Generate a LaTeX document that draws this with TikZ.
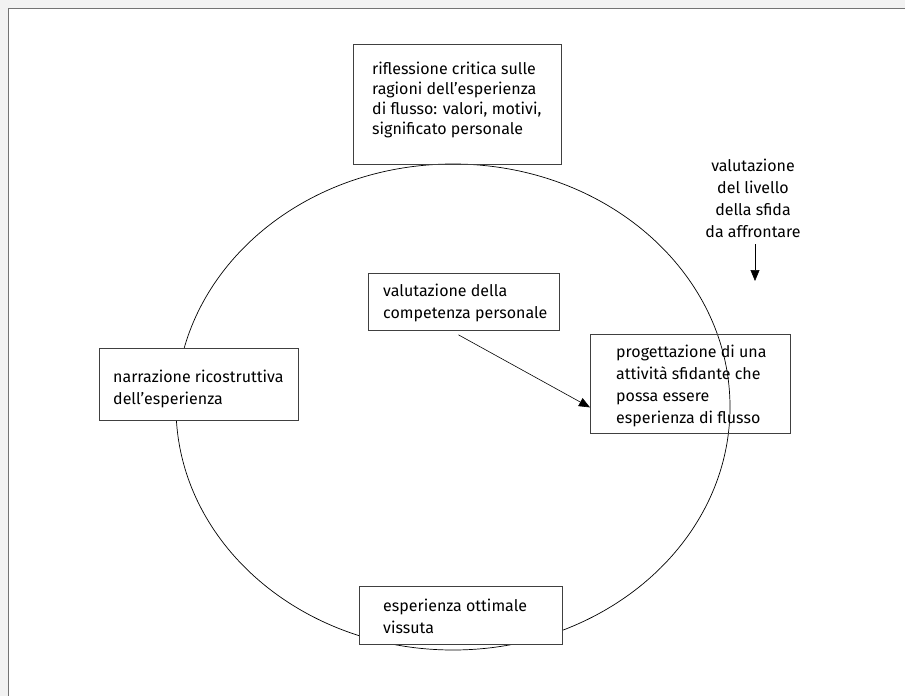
\documentclass[tikz,border=0pt]{standalone}
\usepackage{fontspec}
\setmainfont{Fira Sans}
\usetikzlibrary{arrows.meta}
\begin{document}
\begin{tikzpicture}[x=1pt,y=-1pt,
  box/.style={draw=black!75,line width=0.8pt,rectangle,inner sep=0pt,anchor=north west},
  whitebox/.style={box,fill=white},
  txt/.style={inner sep=0pt,anchor=west,align=left,font=\fontsize{16}{22}\selectfont},
  lbl/.style={inner sep=0pt,align=center,font=\fontsize{16}{22}\selectfont},
  arr/.style={line width=0.6pt,-{Triangle[length=11pt,width=9pt]}},
  cyc/.style={line width=0.7pt}]
\useasboundingbox (0,0) rectangle (905,696);
% page frame
\fill[black!5] (0,0) rectangle (905,696);
\fill[white] (8.5,8.5) rectangle (905,696);
\draw[black!55,line width=1.2pt] (8.5,696) -- (8.5,8.5) -- (905,8.5);

% the cycle
\draw[cyc] (453,407) ellipse [x radius=277pt, y radius=243pt];

% boxes
\node[box,minimum width=208pt,minimum height=120pt] (top) at (353,44) {};
\node[txt,font=\fontsize{16}{20}\selectfont] (toptxt) at ([xshift=19pt,yshift=4pt]top.west)
  {riflessione critica sulle\\ragioni dell’esperienza\\di flusso: valori, motivi,\\significato personale};

\node[box,minimum width=191pt,minimum height=57pt] (mid) at (368,273) {};
\node[txt] (midtxt) at ([xshift=15pt,yshift=-1.5pt]mid.west)
  {valutazione della\\competenza personale};

\node[box,minimum width=200pt,minimum height=99pt] (right) at (590,334) {};
\node[txt] (righttxt) at ([xshift=26pt,yshift=-2.5pt]right.west)
  {progettazione di una\\attività sfidante che\\possa essere\\esperienza di flusso};

\node[whitebox,minimum width=199pt,minimum height=72pt] (left) at (99,348) {};
\node[txt] (lefttxt) at ([xshift=14pt,yshift=-4.5pt]left.west)
  {narrazione ricostruttiva\\dell’esperienza};

\node[whitebox,minimum width=203pt,minimum height=58pt] (bottom) at (359,586) {};
\node[txt] (bottomtxt) at ([xshift=24pt,yshift=-1pt]bottom.west)
  {esperienza ottimale\\vissuta};

% challenge label and its arrow
\node[lbl] (chal) at (753,198.5)
  {valutazione\\del livello\\della sfida\\da affrontare};
\coordinate (chalEnd) at (755,281);
\draw[arr] ([yshift=-6pt]chal.south -| chalEnd) -- (chalEnd);

% competence feeds the design of the activity
\draw[arr] ([xshift=-5.5pt,yshift=-4pt]mid.south) -- ([yshift=-23.5pt]right.west);
\end{tikzpicture}
\end{document}
